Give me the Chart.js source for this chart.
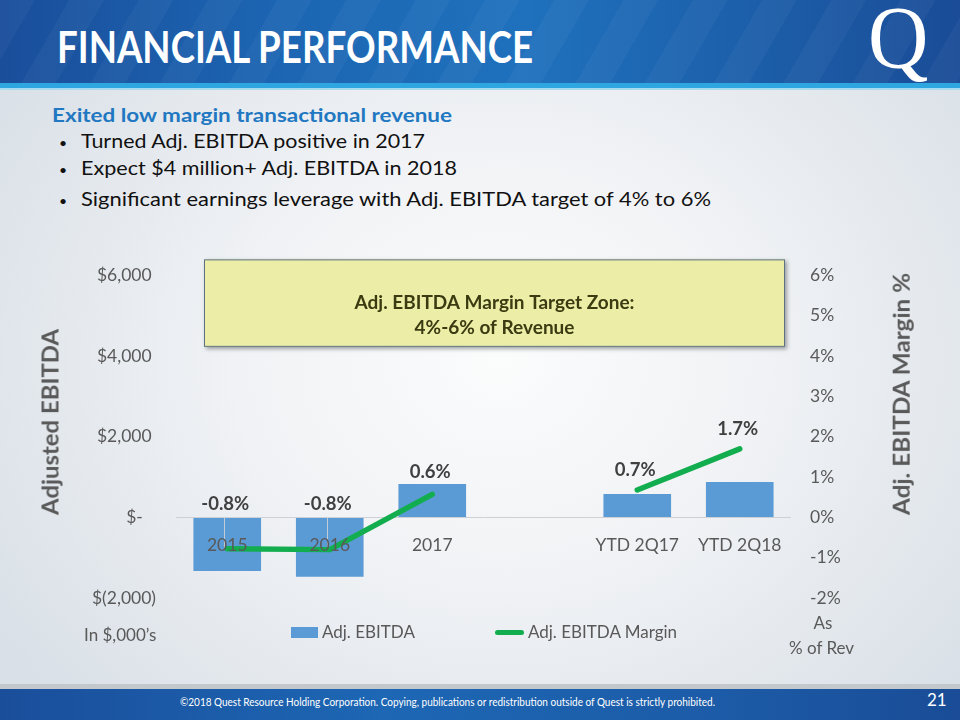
<!DOCTYPE html>
<html>
<head>
<meta charset="utf-8">
<script src="https://cdn.jsdelivr.net/npm/chart.js@4/dist/chart.umd.min.js"></script>
<style>
html,body{margin:0;padding:0;width:960px;height:720px;overflow:hidden;}
body{position:relative;font-family:Lato,"Open Sans",sans-serif;
  background:radial-gradient(ellipse 62% 70% at 52% 50%, #fbfcfc 0%, #f0f2f5 45%, #d9e0e7 100%);}
.abs{position:absolute;white-space:nowrap;}
#header{left:0;top:0;width:960px;height:83px;
  background:linear-gradient(90deg,#1a4e9b 0%,#1c66b3 30%,#1f71bd 55%,#1c5da8 80%,#1a4c97 100%);}
#header::after{content:"";position:absolute;left:0;top:0;right:0;bottom:0;
  background:repeating-linear-gradient(120deg,rgba(255,255,255,0.035) 0 30px,rgba(255,255,255,0) 30px 60px);}
#stripe{left:0;top:83px;width:960px;height:5px;background:#2ea6df;}
#stripe2{left:0;top:88px;width:960px;height:2px;background:#a9dbf0;}
#title{left:57px;top:24px;color:#fff;font-weight:bold;font-size:44px;line-height:44px;transform-origin:0 0;}
#logo{left:868px;top:-6px;color:#fff;font-family:"Liberation Serif","DejaVu Serif",serif;font-size:88px;line-height:88px;transform-origin:0 0;transform:scaleX(0.95);}
#footerGray{left:0;top:684px;width:960px;height:5px;background:#c3c8cd;}
#footer{left:0;top:689px;width:960px;height:31px;
  background:linear-gradient(90deg,#1a4e9b 0%,#1d67b4 40%,#1c5ba7 75%,#1a4c97 100%);}
#footText{left:180px;top:695px;color:#fff;font-size:11px;line-height:14px;transform-origin:0 0;}
#pageNo{left:927px;top:690px;color:#fff;font-size:17px;line-height:20px;}
#heading{left:52px;top:103px;color:#1f78c1;font-weight:bold;font-size:19.5px;line-height:24px;transform-origin:0 0;}
.bul{left:59px;color:#111;font-size:14px;line-height:14px;}
.btxt{left:81px;color:#111;font-size:19.5px;line-height:24px;transform-origin:0 0;}
.axTitle{color:#595959;font-weight:bold;font-size:23px;line-height:26px;}
.note{color:#595959;font-size:17px;line-height:20px;}
#legend{left:0;top:622px;width:968px;display:flex;justify-content:center;gap:80px;color:#595959;font-size:17px;line-height:20px;}
.lgItem{display:flex;align-items:center;gap:4px;}
canvas{position:absolute;left:0;top:0;}
</style>
</head>
<body>
<div id="header" class="abs"></div>
<div id="stripe" class="abs"></div>
<div id="stripe2" class="abs"></div>
<div id="title" class="abs">FINANCIAL PERFORMANCE</div>
<div id="logo" class="abs">Q</div>

<div id="heading" class="abs">Exited low margin transactional revenue</div>
<div class="abs bul" style="top:136px">•</div><div class="abs btxt" style="top:129px" data-w="344">Turned Adj. EBITDA positive in 2017</div>
<div class="abs bul" style="top:163px">•</div><div class="abs btxt" style="top:156px" data-w="376">Expect $4 million+ Adj. EBITDA in 2018</div>
<div class="abs bul" style="top:194px">•</div><div class="abs btxt" style="top:187px" data-w="630">Significant earnings leverage with Adj. EBITDA target of 4% to 6%</div>

<canvas id="c" width="960" height="720"></canvas>

<div id="yTitleL" class="abs axTitle">Adjusted EBITDA</div>
<div id="yTitleR" class="abs axTitle">Adj. EBITDA Margin %</div>
<div class="abs note" style="left:84px;top:625px;">In $,000’s</div>
<div class="abs note" style="left:808px;top:613px;width:30px;text-align:center;">As</div>
<div class="abs note" style="left:789px;top:638px;">% of Rev</div>
<div id="legend" class="abs"></div>

<div id="footerGray" class="abs"></div>
<div id="footer" class="abs"></div>
<div id="footText" class="abs">©2018 Quest Resource Holding Corporation.  Copying, publications or redistribution outside of Quest is strictly prohibited.</div>
<div id="pageNo" class="abs">21</div>

<script>
// ---- data ----
const categories = ['2015', '2016', '2017', '', 'YTD 2Q17', 'YTD 2Q18'];
const adjEbitda = [-1330, -1475, 825, null, 580, 875];          // $000s
const marginPct = [-0.78, -0.80, 0.57, null, 0.68, 1.70];       // % of revenue
const leftTickValues = [-2000, 0, 2000, 4000, 6000];
const leftTickLabels = ['$(2,000)', '$-', '$2,000', '$4,000', '$6,000'];
const rightTickValues = [-2, -1, 0, 1, 2, 3, 4, 5, 6];
const rightTickLabels = ['-2%', '-1%', '0%', '1%', '2%', '3%', '4%', '5%', '6%'];
const seriesNames = ['Adj. EBITDA', 'Adj. EBITDA Margin'];
const zoneText = ['Adj. EBITDA Margin Target Zone:', '4%-6% of Revenue'];

const BAR = '#5b9bd5', LINE = '#12ad4e', GRAY = '#595959';
const FONT = 'Lato';

// fit helpers for slide text
function fitWidth(el, w){ const r = el.getBoundingClientRect().width; el.style.transform = 'scaleX(' + (w / r) + ')'; }
fitWidth(document.getElementById('title'), 476);
fitWidth(document.getElementById('heading'), 400);
fitWidth(document.getElementById('footText'), 535);
document.querySelectorAll('.btxt').forEach(el => fitWidth(el, +el.dataset.w));

function placeRotated(id, cx, cy, len){
  const el = document.getElementById(id);
  const r = el.getBoundingClientRect();
  el.style.left = (cx - r.width / 2) + 'px';
  el.style.top = (cy - r.height / 2) + 'px';
  el.style.transform = 'rotate(-90deg) scaleX(' + (len / r.width) + ')';
}
placeRotated('yTitleL', 50, 422, 186);
placeRotated('yTitleR', 901, 394, 242);

const zonePlugin = {
  id: 'zoneBox',
  beforeDatasetsDraw(chart){
    const {ctx, chartArea} = chart;
    const y1 = chart.scales.y1;
    const top = y1.getPixelForValue(6.4), bottom = y1.getPixelForValue(4.23);
    const left = chartArea.left + 28, right = chartArea.right - 6;
    ctx.save();
    ctx.shadowColor = 'rgba(0,0,0,0.35)'; ctx.shadowBlur = 4; ctx.shadowOffsetX = 2; ctx.shadowOffsetY = 2;
    ctx.fillStyle = '#eceea8';
    ctx.fillRect(left, top, right - left, bottom - top);
    ctx.shadowColor = 'transparent';
    ctx.strokeStyle = '#5c7282'; ctx.lineWidth = 1;
    ctx.strokeRect(left + 0.5, top + 0.5, right - left - 1, bottom - top - 1);
    ctx.fillStyle = '#3b3b12';
    ctx.font = 'bold 19px ' + FONT;
    ctx.textAlign = 'center'; ctx.textBaseline = 'middle';
    const cx = (left + right) / 2;
    ctx.fillText(zoneText[0], cx, top + 43);
    ctx.fillText(zoneText[1], cx, top + 68);
    ctx.restore();
  }
};

const labelPlugin = {
  id: 'marginLabels',
  afterDatasetDraw(chart, args){
    // faint drop lines for points below the axis, drawn over the bars
    if (args.index !== 0) return;
    const {ctx} = chart;
    const lineMeta = chart.getDatasetMeta(1);
    const zeroY = chart.scales.y.getPixelForValue(0);
    ctx.save();
    ctx.strokeStyle = 'rgba(205,210,215,0.9)'; ctx.lineWidth = 1;
    lineMeta.data.forEach((pt, i) => {
      if (marginPct[i] === null || pt.y <= zeroY) return;
      ctx.beginPath(); ctx.moveTo(Math.round(pt.x) - 2.5, zeroY); ctx.lineTo(Math.round(pt.x) - 2.5, pt.y); ctx.stroke();
    });
    ctx.restore();
  },
  afterDatasetsDraw(chart){
    const {ctx} = chart;
    const barMeta = chart.getDatasetMeta(0), lineMeta = chart.getDatasetMeta(1);
    const zeroY = chart.scales.y.getPixelForValue(0);
    ctx.save();
    ctx.font = 'bold 18.5px ' + FONT; ctx.fillStyle = '#404040';
    ctx.textAlign = 'center'; ctx.textBaseline = 'middle';
    lineMeta.data.forEach((pt, i) => {
      const v = marginPct[i];
      if (v === null) return;
      const bar = barMeta.data[i];
      const barTop = Math.min(bar.y, bar.base);
      const y = Math.min(pt.y - 20, barTop - 12, zeroY - 13);
      ctx.fillText(v.toFixed(1) + '%', pt.x - 2, y);
    });
    ctx.restore();
  }
};

const chart = new Chart(document.getElementById('c'), {
  data: {
    labels: categories,
    datasets: [
      { type: 'bar', label: seriesNames[0], data: adjEbitda, yAxisID: 'y', backgroundColor: BAR,
        barPercentage: 0.66, categoryPercentage: 1.0, order: 1 },
      { type: 'line', label: seriesNames[1], data: marginPct, yAxisID: 'y1', borderColor: LINE, backgroundColor: LINE,
        borderWidth: 5.5, borderCapStyle: 'round', borderJoinStyle: 'round', pointRadius: 0, tension: 0, spanGaps: false, order: 0 }
    ]
  },
  options: {
    responsive: false, animation: false,
    layout: { padding: { left: 76, right: 89, top: 275.5, bottom: 122 } },
    plugins: { legend: { display: false }, tooltip: { enabled: false } },
    scales: {
      x: {
        position: { y: 0 }, offset: true,
        grid: { display: false, drawTicks: false }, border: { display: false },
        ticks: { z: 1, color: GRAY, font: { family: FONT, size: 17.5 }, padding: 17, maxRotation: 0, autoSkip: false },
        afterFit(s){ s.height = 0; }
      },
      y: {
        position: 'left', min: -2000, max: 6000,
        afterBuildTicks(s){ s.ticks = leftTickValues.map(v => ({ value: v })); },
        ticks: { color: GRAY, font: { family: FONT, size: 17.5 }, padding: 20,
          callback(v){ const i = leftTickValues.indexOf(v); const t = leftTickLabels[i];
            return v === 0 ? t + '\u2002\u2005' : (v > 0 ? t + '\u2005' : t); } },
        grid: { drawTicks: false, color: c => (c.tick && c.tick.value === 0) ? '#cdd1d5' : 'rgba(0,0,0,0)' },
        border: { display: false },
        afterFit(s){ s.width = 100; }
      },
      y1: {
        position: 'right', min: -2, max: 6,
        afterBuildTicks(s){ s.ticks = rightTickValues.map(v => ({ value: v })); },
        ticks: { color: GRAY, font: { family: FONT, size: 17.5 }, padding: 19,
          callback(v){ return rightTickLabels[rightTickValues.indexOf(v)]; } },
        grid: { display: false, drawTicks: false }, border: { display: false },
        afterFit(s){ s.width = 80; }
      }
    }
  },
  plugins: [zonePlugin, labelPlugin]
});

// HTML legend built from the chart's datasets
const legend = document.getElementById('legend');
chart.data.datasets.forEach(ds => {
  const item = document.createElement('div'); item.className = 'lgItem';
  const sw = document.createElement('span');
  if (ds.type === 'bar') { sw.style.cssText = 'display:inline-block;width:27px;height:11px;background:' + ds.backgroundColor; }
  else { sw.style.cssText = 'display:inline-block;width:29px;height:5px;border-radius:3px;background:' + ds.borderColor; }
  const tx = document.createElement('span'); tx.textContent = ds.label;
  item.appendChild(sw); item.appendChild(tx); legend.appendChild(item);
});
</script>
</body>
</html>
